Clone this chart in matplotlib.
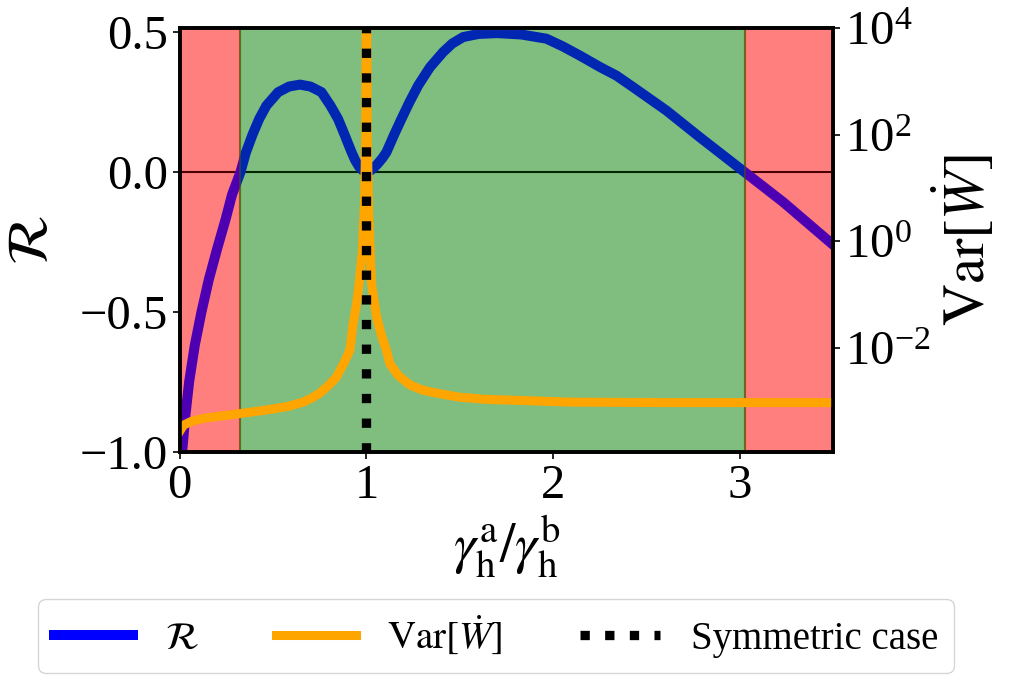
import matplotlib
matplotlib.use("Agg")
import matplotlib.pyplot as plt
from matplotlib.ticker import NullLocator

plt.rcParams['font.family'] = ['Liberation Serif', 'DejaVu Serif']
plt.rcParams['mathtext.fontset'] = 'stix'

# -----------------------------
# Data
# -----------------------------
ratio_r = [0.0, 0.014, 0.03, 0.05, 0.08, 0.116, 0.155, 0.2, 0.246, 0.28,
           0.325, 0.354, 0.39, 0.425, 0.464, 0.527, 0.585, 0.643, 0.70, 0.759,
           0.807, 0.848, 0.885, 0.92, 0.94, 0.96, 0.98, 1.0, 1.02, 1.04,
           1.06, 1.085, 1.107, 1.146, 1.187, 1.23, 1.277, 1.34, 1.41, 1.46,
           1.518, 1.6, 1.70, 1.83, 1.964, 2.05, 2.142, 2.25, 2.339, 2.428,
           2.607, 2.785, 3.026, 3.232, 3.5]
r_vals = [-1.06, -0.99, -0.87, -0.75, -0.62, -0.5, -0.385, -0.274, -0.167, -0.08,
          0.0, 0.07, 0.135, 0.19, 0.238, 0.286, 0.306, 0.313, 0.306, 0.286,
          0.238, 0.19, 0.13, 0.0715, 0.042, 0.02, 0.006, 0.0, 0.005, 0.016,
          0.03, 0.05, 0.0715, 0.131, 0.19, 0.25, 0.31, 0.375, 0.429, 0.46,
          0.483, 0.494, 0.497, 0.492, 0.477, 0.45, 0.417, 0.376, 0.345, 0.304,
          0.22, 0.125, 0.0, -0.107, -0.26]

ratio_var = [0.003, 0.02, 0.06, 0.125, 0.325, 0.482, 0.58, 0.661, 0.71, 0.75,
             0.8, 0.839, 0.875, 0.911, 0.928, 0.945, 0.955, 0.966, 0.978, 0.99,
             0.996, 1.0, 1.004, 1.012, 1.027, 1.054, 1.08, 1.107, 1.125, 1.17,
             1.232, 1.3, 1.375, 1.5, 1.642, 2.089, 2.625, 3.5]
var_vals = [2.8e-4, 3.5e-4, 4.1e-4, 4.7e-4, 5.8e-4, 6.9e-4, 7.9e-4, 9.5e-4, 1.15e-3, 1.4e-3,
            2.0e-3, 2.8e-3, 4.8e-3, 8.9e-3, 2.8e-2, 6.0e-2, 0.11, 0.25, 0.68, 6.3,
            100.0, 1e6, 100.0, 3.2, 0.16, 0.038, 0.017, 8.9e-3, 5.0e-3, 3.0e-3,
            2.0e-3, 1.6e-3, 1.4e-3, 1.17e-3, 1.07e-3, 9.5e-4, 9.3e-4, 9.3e-4]

neg_regions = [(0.0, 0.325), (3.03, 3.5)]
pos_region = (0.325, 3.03)
symmetric_x = 1.0


def shade(ax, alpha, z):
    """Red where R < 0, green where R > 0."""
    for a, b in neg_regions:
        ax.axvspan(a, b, color='red', alpha=alpha, lw=1.5, zorder=z)
    ax.axvspan(pos_region[0], pos_region[1], color='green', alpha=alpha, lw=1.5, zorder=z)


# -----------------------------
# Plot
# -----------------------------
fig = plt.figure(figsize=(10.1, 6.75), dpi=100)
ax = fig.add_axes([0.178, 0.3304, 0.647, 0.628])

# two shading layers: line sits between them (tinted), background looks alpha 0.5
shade(ax, 0.2857, 0.5)
ax.axhline(0, color='black', lw=1.5, zorder=1)
l1, = ax.plot(ratio_r, r_vals, color='blue', lw=7.2, zorder=2, solid_joinstyle='round')
shade(ax, 0.3, 3)

ax.set_xlim(0, 3.5)
ax.set_ylim(-1, 0.515)
ax.set_xticks([0, 1, 2, 3])
ax.set_yticks([-1.0, -0.5, 0.0, 0.5])
ax.set_xlabel(r'$\gamma_{\rm h}^{\rm a}/\gamma_{\rm h}^{\rm b}$', fontsize=40)
ax.set_ylabel(r'$\mathcal{R}$', fontsize=42, labelpad=14)

ax2 = ax.twinx()
l2, = ax2.plot(ratio_var, var_vals, color='orange', lw=6.5, zorder=2, solid_joinstyle='round')
l3 = ax2.axvline(symmetric_x, color='black', ls=':', lw=6.7, zorder=3)
ax2.set_yscale('log')
ax2.set_ylim(1.1e-4, 1e4)
ax2.set_yticks([1e-2, 1e0, 1e2, 1e4])
ax2.yaxis.set_minor_locator(NullLocator())
ax2.set_ylabel(r'$\mathrm{Var}[\dot{W}]$', fontsize=42, labelpad=0)

for a in (ax, ax2):
    a.tick_params(labelsize=35, direction='out', length=5, width=1.2)
    for s in a.spines.values():
        s.set_linewidth(2.6)

fig.legend([l1, l2, l3], [r'$\mathcal{R}$', r'$\mathrm{Var}[\dot{W}]$', 'Symmetric case'],
           loc='lower center', bbox_to_anchor=(0.491, 0.0), ncol=3, fontsize=28,
           columnspacing=2.0, handlelength=2.05, borderaxespad=0.05)

fig.savefig('out.png', dpi=100)
